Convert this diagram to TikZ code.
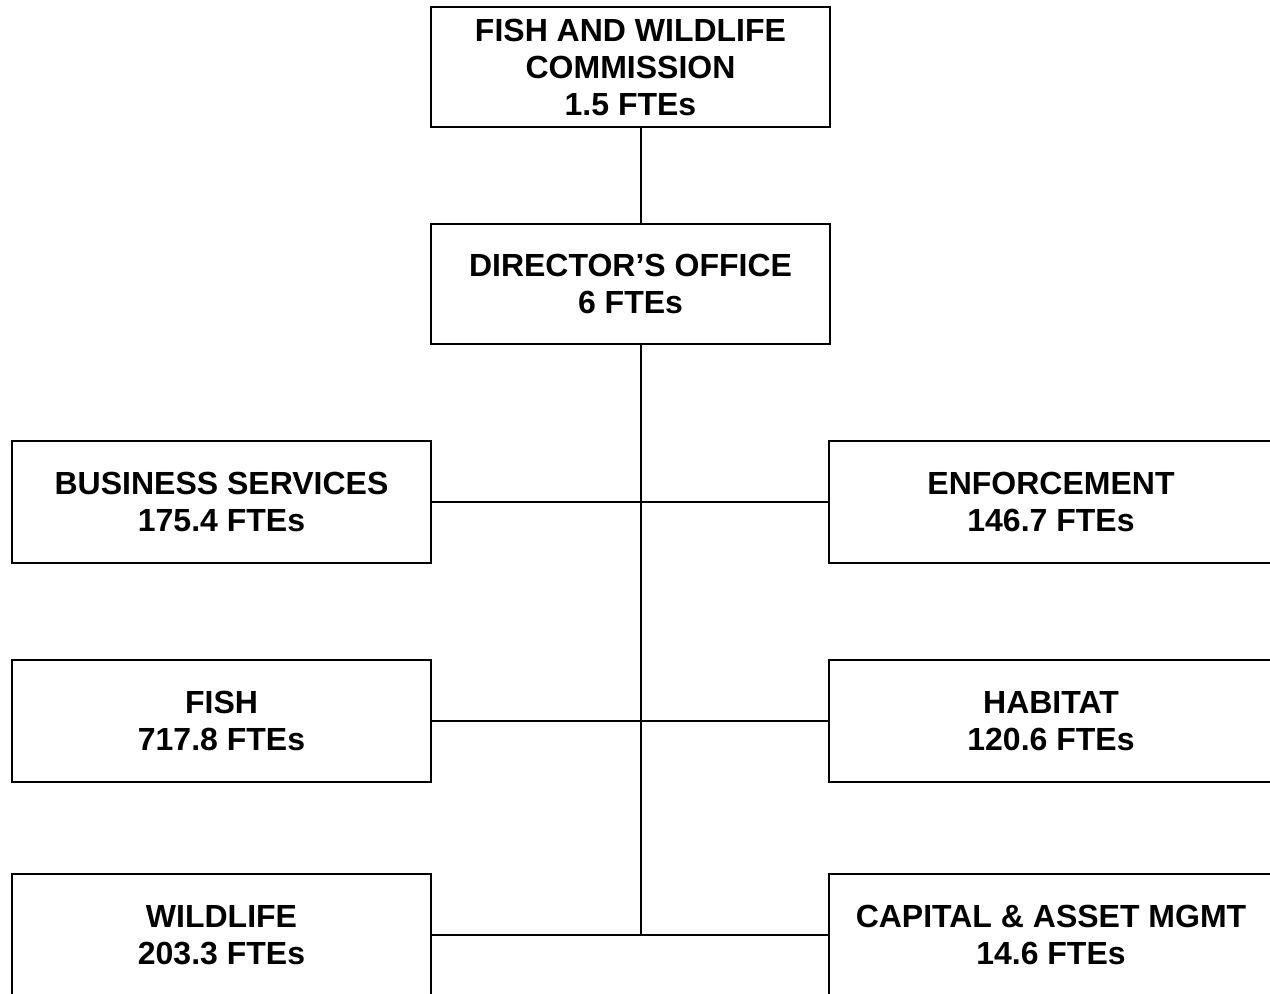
\documentclass[tikz,border=0pt]{standalone}
\usepackage{fontspec}
\setmainfont{Liberation Sans}
\begin{document}
\begin{tikzpicture}[x=1pt,y=-1pt,
  orgbox/.style={draw=black, line width=2pt, rectangle, inner sep=0pt, outer sep=0pt,
    align=center, font=\bfseries\fontsize{32}{37}\selectfont},
  link/.style={draw=black, line width=2pt}]
\useasboundingbox (0,0) rectangle (1270,994);
\clip (0,0) rectangle (1270,994);
\node[orgbox, minimum width=399pt, minimum height=120pt] (comm) at (630.5,67) {FISH AND WILDLIFE\\COMMISSION\\1.5 FTEs};
\node[orgbox, minimum width=399pt, minimum height=120pt] (dir) at (630.5,284) {DIRECTOR’S OFFICE\\6 FTEs};
\node[orgbox, minimum width=419pt, minimum height=122pt] (bus) at (221.5,502) {BUSINESS SERVICES\\175.4 FTEs};
\node[orgbox, minimum width=444pt, minimum height=122pt] (enf) at (1051,502) {ENFORCEMENT\\146.7 FTEs};
\node[orgbox, minimum width=419pt, minimum height=122pt] (fish) at (221.5,721) {FISH\\717.8 FTEs};
\node[orgbox, minimum width=444pt, minimum height=122pt] (hab) at (1051,721) {HABITAT\\120.6 FTEs};
\node[orgbox, minimum width=419pt, minimum height=122pt] (wild) at (221.5,935) {WILDLIFE\\203.3 FTEs};
\node[orgbox, minimum width=444pt, minimum height=122pt] (cap) at (1051,935) {CAPITAL \& ASSET MGMT\\14.6 FTEs};
\coordinate (jb) at (641,935);
\draw[link] (comm.south -| jb) -- (dir.north -| jb);
\draw[link] (dir.south -| jb) -- (jb);
\draw[link] (bus.east) -- (enf.west);
\draw[link] (fish.east) -- (hab.west);
\draw[link] (wild.east) -- (cap.west);
\end{tikzpicture}
\end{document}
